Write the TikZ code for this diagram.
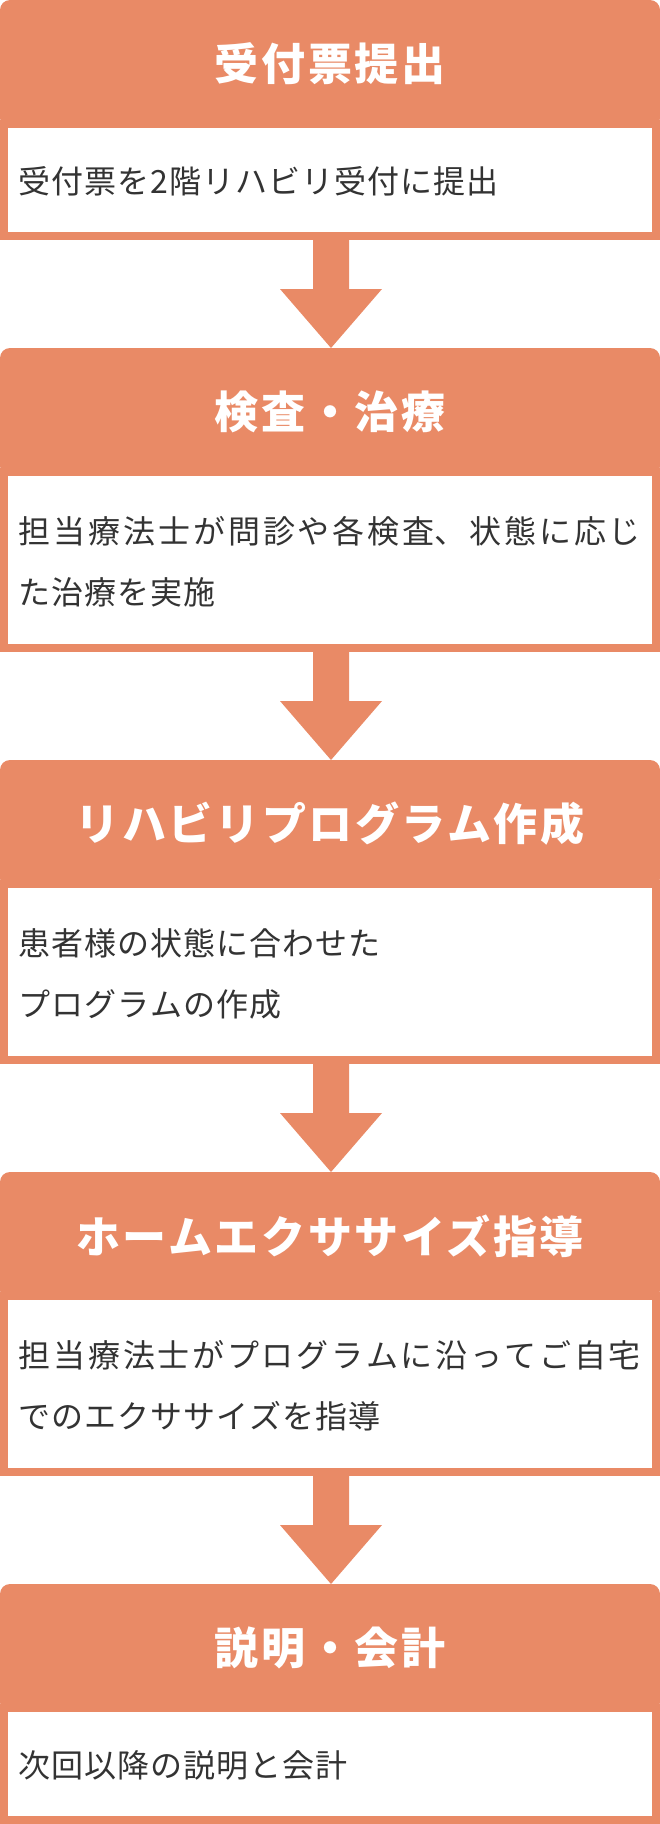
\documentclass[tikz,border=0pt]{standalone}
\usepackage{fontspec}
\usepackage{tikz}
\usetikzlibrary{positioning,calc}

\newfontfamily\jpfont{Noto Sans CJK JP}
\newfontfamily\jpbold{Noto Sans CJK JP}[LetterSpace=6]
\XeTeXlinebreaklocale "ja"
\XeTeXlinebreakskip=1pt plus 3pt

\definecolor{flowOrange}{HTML}{E98A66}
\definecolor{textGray}{HTML}{333333}

\begin{document}
\begin{tikzpicture}[%
    x=1pt,
    y=-1pt,
    header/.style={%
        fill=flowOrange,
        rounded corners=10pt,
        minimum width=660pt,
        minimum height=128pt,
        inner sep=0pt,
        outer sep=0pt,
        text=white,
        font=\jpbold\bfseries\fontsize{44pt}{50pt}\selectfont
    },
    bodyBox/.style={%
        draw=flowOrange,
        fill=white,
        line width=8pt,
        text width=622pt,
        align=justify,
        inner xsep=15pt,
        inner ysep=0pt,
        minimum height=112pt,
        text height=30pt,
        text=textGray,
        font=\jpfont\fontsize{32pt}{61pt}\selectfont
    },
    twoLine/.style={%
        minimum height=176pt
    },
    flow/.style={%
        fill=flowOrange
    }
]

\useasboundingbox (0,0) rectangle (660,1824);

% Step 1
    \node[header] (head1) at (330,64) {受付票提出};
    \node[bodyBox, below=-8pt of head1] (body1) {受付票を2階リハビリ受付に提出};

% Step 2
    \node[header, below=108pt of body1] (head2) {検査・治療};
    \node[bodyBox, twoLine, below=-8pt of head2] (body2) {担当療法士が問診や各検査、状態に応じ\linebreak た治療を実施};

% Step 3
    \node[header, below=108pt of body2] (head3) {リハビリプログラム作成};
    \node[bodyBox, twoLine, below=-8pt of head3] (body3) {患者様の状態に合わせた\\プログラムの作成};

% Step 4
    \node[header, below=108pt of body3] (head4) {ホームエクササイズ指導};
    \node[bodyBox, twoLine, below=-8pt of head4] (body4) {担当療法士がプログラムに沿ってご自宅\linebreak でのエクササイズを指導};

% Step 5
    \node[header, below=108pt of body4] (head5) {説明・会計};
    \node[bodyBox, below=-8pt of head5] (body5) {次回以降の説明と会計};

% Arrows
\foreach \i/\j in {1/2,2/3,3/4,4/5}
    \fill[flow] ($(body\i.south)+(-17,-1)$) -- ($(body\i.south)+(19,-1)$)
        -- ($(head\j.north)+(19,-59)$) -- ($(head\j.north)+(52,-59)$)
        -- ($(head\j.north)+(1,0)$)
        -- ($(head\j.north)+(-50,-59)$) -- ($(head\j.north)+(-17,-59)$) -- cycle;

\end{tikzpicture}
\end{document}
